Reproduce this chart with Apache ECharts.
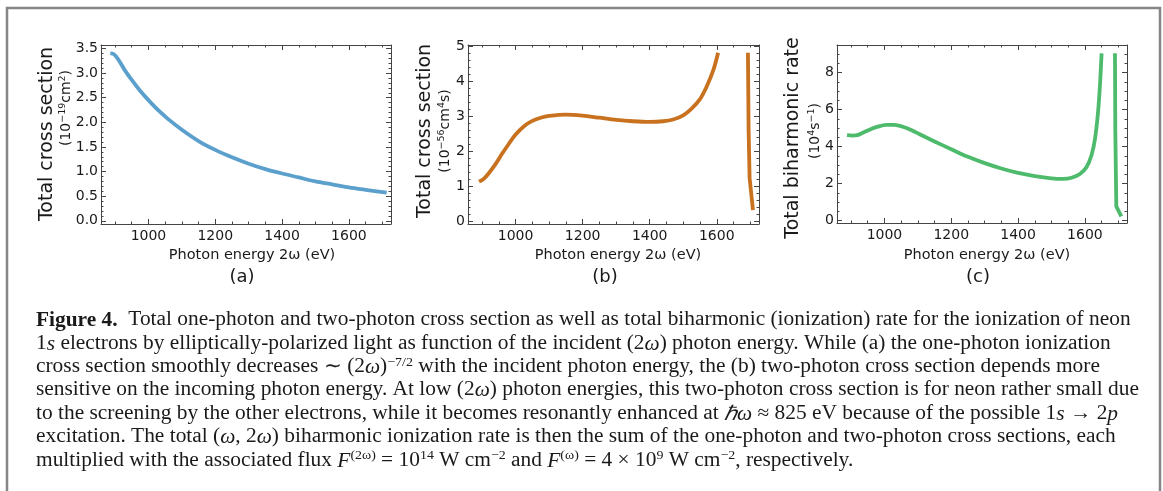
<!DOCTYPE html>
<html>
<head>
<meta charset="utf-8">
<script src="https://cdn.jsdelivr.net/npm/echarts@6/dist/echarts.min.js"></script>
<style>
  html, body { margin: 0; padding: 0; background: #ffffff; }
  #chart { width: 1163px; height: 491px; }
</style>
</head>
<body>
<div id="chart"></div>
<script>
// ---------------- DATA ----------------
// Panel (a): one-photon total cross section (10^-19 cm^2)
const energyA = [886, 895, 903, 915, 930, 950, 975, 1000, 1030, 1060, 1100, 1150, 1200, 1250, 1300, 1350, 1400, 1450, 1500, 1550, 1600, 1650, 1713];
const crossA  = [3.40, 3.39, 3.34, 3.22, 3.05, 2.86, 2.64, 2.45, 2.24, 2.06, 1.85, 1.62, 1.44, 1.29, 1.16, 1.05, 0.96, 0.88, 0.80, 0.74, 0.68, 0.63, 0.57];

// Panel (b): two-photon total cross section (10^-56 cm^4 s), two branches around the resonance
const energyB1 = [891, 905, 920, 940, 960, 980, 1000, 1025, 1050, 1075, 1100, 1150, 1200, 1250, 1300, 1350, 1400, 1440, 1470, 1500, 1525, 1550, 1570, 1590, 1604];
const crossB1  = [1.14, 1.22, 1.38, 1.64, 1.94, 2.22, 2.48, 2.72, 2.87, 2.96, 3.01, 3.05, 3.02, 2.96, 2.90, 2.86, 2.84, 2.86, 2.91, 3.03, 3.22, 3.49, 3.85, 4.32, 4.81];
const energyB2 = [1693, 1695, 1698, 1708];
const crossB2  = [4.81, 2.60, 1.24, 0.33];

// Panel (c): total biharmonic rate (10^4 s^-1), two branches
const energyC1 = [888, 905, 918, 935, 955, 980, 1005, 1030, 1055, 1080, 1110, 1150, 1200, 1250, 1300, 1350, 1400, 1450, 1500, 1535, 1560, 1585, 1605, 1620, 1630, 1639, 1645, 1650];
const rateC1   = [4.62, 4.60, 4.62, 4.75, 4.92, 5.08, 5.18, 5.18, 5.08, 4.90, 4.63, 4.28, 3.86, 3.45, 3.11, 2.82, 2.58, 2.41, 2.29, 2.26, 2.32, 2.52, 2.90, 3.55, 4.40, 5.80, 7.30, 9.05];
const energyC2 = [1690, 1691, 1694, 1709];
const rateC2   = [9.05, 4.90, 0.77, 0.23];

// Tick labels
const xTicks  = [1000, 1200, 1400, 1600];
const yTicksA = [0, 0.5, 1.0, 1.5, 2.0, 2.5, 3.0, 3.5];
const yTicksB = [0, 1, 2, 3, 4, 5];
const yTicksC = [0, 2, 4, 6, 8];

// Texts
const xTitle = 'Photon energy 2ω (eV)';
const panelLetters = ['(a)', '(b)', '(c)'];
const yTitles = ['Total cross section', 'Total cross section', 'Total biharmonic rate'];
const yUnits = ['(10{sup|−19}cm{sup|2})', '(10{sup|−56}cm{sup|4}s)', '(10{sup|4}s{sup|−1})'];
const captionLines = [
  '{b|Figure 4.}  Total one-photon and two-photon cross section as well as total biharmonic (ionization) rate for the ionization of neon',
  '1{i|s} electrons by elliptically-polarized light as function of the incident (2{i|ω}) photon energy. While (a) the one-photon ionization',
  'cross section smoothly decreases ∼ (2{i|ω}){sup|−7/2} with the incident photon energy, the (b) two-photon cross section depends more',
  'sensitive on the incoming photon energy. At low (2{i|ω}) photon energies, this two-photon cross section is for neon rather small due',
  'to the screening by the other electrons, while it becomes resonantly enhanced at {i|ℏω} ≈ 825 eV because of the possible 1{i|s} → 2{i|p}',
  'excitation. The total ({i|ω}, 2{i|ω}) biharmonic ionization rate is then the sum of the one-photon and two-photon cross sections, each',
  'multiplied with the associated flux {i|F}{sup|(2ω)} = 10{sup|14} W cm{sup|−2} and {i|F}{sup|(ω)} = 4 × 10{sup|9} W cm{sup|−2}, respectively.'
];

// ---------------- LAYOUT / STYLE ----------------
const SANS = 'DejaVu Sans';
const SERIF = 'Liberation Serif';
const FRAME = '#444444';
const TXT = '#1a1a1a';
const colors = ['#5ba0cd', '#c8711f', '#4dbb6b'];
const grids = [
  { left: 101, top: 45, width: 290, height: 179 },
  { left: 468, top: 45, width: 291, height: 179 },
  { left: 837, top: 45, width: 290, height: 178 }
];
const xMin = 858, xMax = 1726;
const yRanges = [[-0.065, 3.57], [-0.065, 5.03], [-0.13, 9.5]];
const yMajor = [yTicksA, yTicksB, yTicksC];
const yMinorStep = [0.1, 0.2, 0.5];
const xMinorStep = 50;

function minorList(min, max, step, majors) {
  const out = [];
  const start = Math.ceil(min / step) * step;
  for (let v = start; v <= max + 1e-9; v += step) {
    const r = Math.round(v * 1000) / 1000;
    if (!majors.some(m => Math.abs(m - r) < 1e-6)) out.push(r);
  }
  return out;
}

const xAxes = [], yAxes = [];
function axisBase(gridIndex, position, min, max) {
  return {
    type: 'value', gridIndex, position, min, max,
    axisLine: { show: true, onZero: false, lineStyle: { color: FRAME, width: 1 } },
    splitLine: { show: false },
    axisPointer: { show: false }
  };
}
function addAxes(list, g, positions, min, max, majors, minors, labelOpts) {
  positions.forEach((pos, pi) => {
    const maj = axisBase(g, pos, min, max);
    maj.axisTick = { show: true, inside: true, length: 5, customValues: majors, lineStyle: { color: FRAME, width: 1 } };
    maj.axisLabel = pi === 0 ? Object.assign({ show: true, customValues: majors }, labelOpts) : { show: false };
    list.push(maj);
    const mnr = axisBase(g, pos, min, max);
    mnr.axisLine = { show: false, onZero: false };
    mnr.axisTick = { show: true, inside: true, length: 2.5, customValues: minors, lineStyle: { color: FRAME, width: 1 } };
    mnr.axisLabel = { show: false };
    list.push(mnr);
  });
}

for (let g = 0; g < 3; g++) {
  addAxes(xAxes, g, ['bottom', 'top'], xMin, xMax, xTicks,
    minorList(xMin, xMax, xMinorStep, xTicks),
    { margin: 5, fontSize: 14, fontFamily: SANS, color: TXT, formatter: v => String(Math.round(v)) });
  const fmt = g === 0 ? (v => v.toFixed(1)) : (v => String(Math.round(v)));
  addAxes(yAxes, g, ['left', 'right'], yRanges[g][0], yRanges[g][1], yMajor[g],
    minorList(yRanges[g][0], yRanges[g][1], yMinorStep[g], yMajor[g]),
    { margin: 3, fontSize: 14, fontFamily: SANS, color: TXT, formatter: fmt });
}

function pairs(xs, ys) { return xs.map((x, i) => [x, ys[i]]); }
function lineSeries(g, xs, ys, smooth) {
  return {
    type: 'line', xAxisIndex: g * 4, yAxisIndex: g * 4,
    data: pairs(xs, ys), showSymbol: false, symbol: 'none',
    smooth: smooth ? 0.3 : false,
    lineStyle: { color: colors[g], width: 3.8, cap: 'butt', join: 'round' },
    itemStyle: { color: colors[g] }, silent: true, animation: false
  };
}
const series = [
  lineSeries(0, energyA, crossA, true),
  lineSeries(1, energyB1, crossB1, true),
  lineSeries(1, energyB2, crossB2, false),
  lineSeries(2, energyC1, rateC1, true),
  lineSeries(2, energyC2, rateC2, false)
];

// graphic texts
const graphic = [];
graphic.push({ type: 'polyline', silent: true, shape: { points: [[7, 491], [7, 8], [1160, 8], [1160, 491]] },
  style: { stroke: '#858585', lineWidth: 2.5, fill: null } });

const yTitlePos = [[47, 134], [425, 131], [793, 138]];
const yUnitPos = [[66, 108], [445, 131], [815, 131]];
const xTitlePos = [252, 618, 987];
const letterPos = [242, 605, 978];
const unitRich = {
  sup: { fontFamily: SANS, fontSize: 9.5, lineHeight: 9, verticalAlign: 'top', fill: TXT }
};
for (let g = 0; g < 3; g++) {
  graphic.push({ type: 'text', x: yTitlePos[g][0], y: yTitlePos[g][1], rotation: Math.PI / 2, silent: true,
    style: { text: yTitles[g], font: '19px "' + SANS + '"', fill: TXT, align: 'center', verticalAlign: 'middle' } });
  graphic.push({ type: 'text', x: yUnitPos[g][0], y: yUnitPos[g][1], rotation: Math.PI / 2, silent: true,
    style: { text: yUnits[g], fontFamily: SANS, fontSize: 14, lineHeight: 16, fill: TXT,
      align: 'center', verticalAlign: 'middle', rich: unitRich } });
  graphic.push({ type: 'text', x: xTitlePos[g], y: 255, silent: true,
    style: { text: xTitle, font: '14.5px "' + SANS + '"', fill: TXT, align: 'center', verticalAlign: 'middle' } });
  graphic.push({ type: 'text', x: letterPos[g], y: 277, silent: true,
    style: { text: panelLetters[g], font: '18px "' + SANS + '"', fill: TXT, align: 'center', verticalAlign: 'middle' } });
}

const capSize = 20;
const capRich = {
  b: { fontFamily: SERIF, fontSize: capSize, fontWeight: 'bold', lineHeight: 22, verticalAlign: 'bottom', fill: TXT },
  i: { fontFamily: SERIF, fontSize: capSize, fontStyle: 'italic', lineHeight: 22, verticalAlign: 'bottom', fill: TXT },
  sup: { fontFamily: SERIF, fontSize: 13, lineHeight: 12, verticalAlign: 'top', fill: TXT }
};
captionLines.forEach((line, k) => {
  graphic.push({ type: 'text', x: 36, y: 320 + k * 23.4, scaleX: 1.07, silent: true,
    style: { text: line, fontFamily: SERIF, fontSize: capSize, lineHeight: 22, fill: TXT,
      align: 'left', verticalAlign: 'middle', rich: capRich } });
});

const chart = echarts.init(document.getElementById('chart'), null, { renderer: 'canvas' });
chart.setOption({
  animation: false,
  backgroundColor: '#ffffff',
  grid: grids.map(g => Object.assign({ containLabel: false }, g)),
  xAxis: xAxes,
  yAxis: yAxes,
  series,
  graphic
});
</script>
</body>
</html>
